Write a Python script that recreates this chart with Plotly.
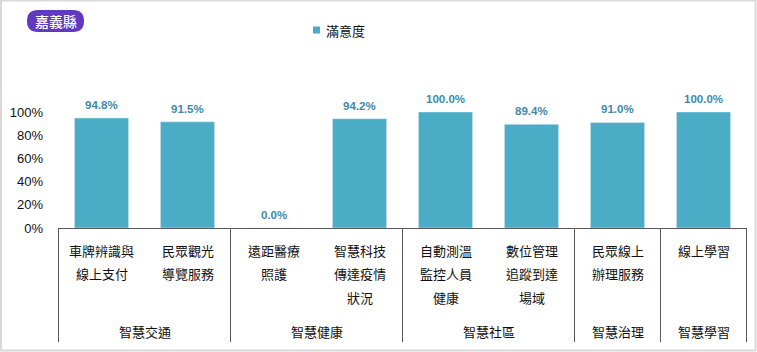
import plotly.graph_objects as go

# ---- data ----
groups = ["智慧交通", "智慧交通", "智慧健康", "智慧健康", "智慧社區", "智慧社區", "智慧治理", "智慧學習"]
categories = ["車牌辨識與<br>線上支付", "民眾觀光<br>導覽服務", "遠距醫療<br>照護", "智慧科技<br>傳達疫情<br>狀況",
              "自動測溫<br>監控人員<br>健康", "數位管理<br>追蹤到達<br>場域", "民眾線上<br>辦理服務", "線上學習"]
satisfaction = [0.948, 0.915, 0.0, 0.942, 1.0, 0.894, 0.910, 1.0]
series_name = "滿意度"
title_badge = "嘉義縣"
y_ticks = [0, 0.2, 0.4, 0.6, 0.8, 1.0]

# ---- layout geometry (pixels) ----
W, H = 757, 352
L, R, T, B = 58, 747, 112, 228
def X(px):
    return (px - L) / (R - L)
def Y(py):
    return (B - py) / (B - T)

BAR = "#4bacc6"
LABEL = "#3d8aa8"
CJK = "Noto Sans CJK TC, Noto Sans CJK SC, sans-serif"
LAT = "Liberation Sans, Arial, sans-serif"

fig = go.Figure()
fig.add_trace(go.Bar(x=categories, y=satisfaction, marker_color=BAR, name=series_name,
                     showlegend=False, hoverinfo="skip"))

annotations = []
shapes = []

# value labels
for c, v in zip(categories, satisfaction):
    annotations.append(dict(x=c, y=v, xref="x", yref="y", text=f"{v*100:.1f}%", showarrow=False,
                            yanchor="bottom", yshift=5,
                            font=dict(family=LAT, size=11.5, color=LABEL, weight="bold")))

# category labels (one annotation per line)
for c in categories:
    for j, line in enumerate(c.split("<br>")):
        annotations.append(dict(x=c, y=Y(250 + 23.5 * j), xref="x", yref="paper", text=line,
                                showarrow=False, yanchor="middle",
                                font=dict(family=CJK, size=13, color="#111111")))

# group labels and dividers
spans = []
start = 0
for i in range(1, len(groups) + 1):
    if i == len(groups) or groups[i] != groups[start]:
        spans.append((groups[start], start, i - 1))
        start = i
for g, a, b in spans:
    annotations.append(dict(x=(a + b) / 2, y=Y(331), xref="x", yref="paper", text=g, showarrow=False,
                            yanchor="middle", font=dict(family=CJK, size=13, color="#111111")))
bounds = [spans[0][1] - 0.5] + [b + 0.5 for _, _, b in spans]
for xb in bounds:
    shapes.append(dict(type="line", xref="x", yref="paper", x0=xb, x1=xb, y0=0, y1=Y(342),
                       line=dict(color="#595959", width=1)))

# outer border
shapes.append(dict(type="rect", xref="paper", yref="paper", x0=X(1), x1=X(755.5), y0=Y(0.5), y1=Y(350.5),
                   line=dict(color="#d9d9d9", width=2), layer="below"))

# title badge (pill)
x0, x1, y0, y1, r = 27, 84, 10, 32, 11
ym = (y0 + y1) / 2
path = (f"M {X(x0+r)},{Y(y0)} L {X(x1-r)},{Y(y0)} Q {X(x1)},{Y(y0)} {X(x1)},{Y(ym)} "
        f"Q {X(x1)},{Y(y1)} {X(x1-r)},{Y(y1)} L {X(x0+r)},{Y(y1)} Q {X(x0)},{Y(y1)} {X(x0)},{Y(ym)} "
        f"Q {X(x0)},{Y(y0)} {X(x0+r)},{Y(y0)} Z")
shapes.append(dict(type="path", xref="paper", yref="paper", path=path,
                   fillcolor="#6338c0", line=dict(width=0)))
annotations.append(dict(x=X((x0 + x1) / 2), y=Y(ym), xref="paper", yref="paper", text=title_badge,
                        showarrow=False, xanchor="center", yanchor="middle",
                        font=dict(family=CJK, size=14, color="white", weight=500)))

# legend
shapes.append(dict(type="rect", xref="paper", yref="paper", x0=X(313), x1=X(320), y0=Y(26.5), y1=Y(33.5),
                   fillcolor=BAR, line=dict(width=0)))
annotations.append(dict(x=X(324), y=Y(30), xref="paper", yref="paper", text=series_name, showarrow=False,
                        xanchor="left", yanchor="middle", font=dict(family=CJK, size=13, color="#111111")))

fig.update_layout(
    width=W, height=H,
    margin=dict(l=L, r=W - R, t=T, b=H - B, pad=0),
    paper_bgcolor="white", plot_bgcolor="white",
    bargap=0.37,
    annotations=annotations, shapes=shapes,
    xaxis=dict(type="category", showticklabels=False, showgrid=False, zeroline=False,
               showline=True, linecolor="#595959", linewidth=1, ticks=""),
    yaxis=dict(range=[0, 1.0], tickvals=y_ticks, tickformat=".0%", showgrid=False, zeroline=False,
               showline=False, ticks="", ticklabelstandoff=14,
               tickfont=dict(family=LAT, size=13, color="#111111")),
)

fig.write_html("out.html")
